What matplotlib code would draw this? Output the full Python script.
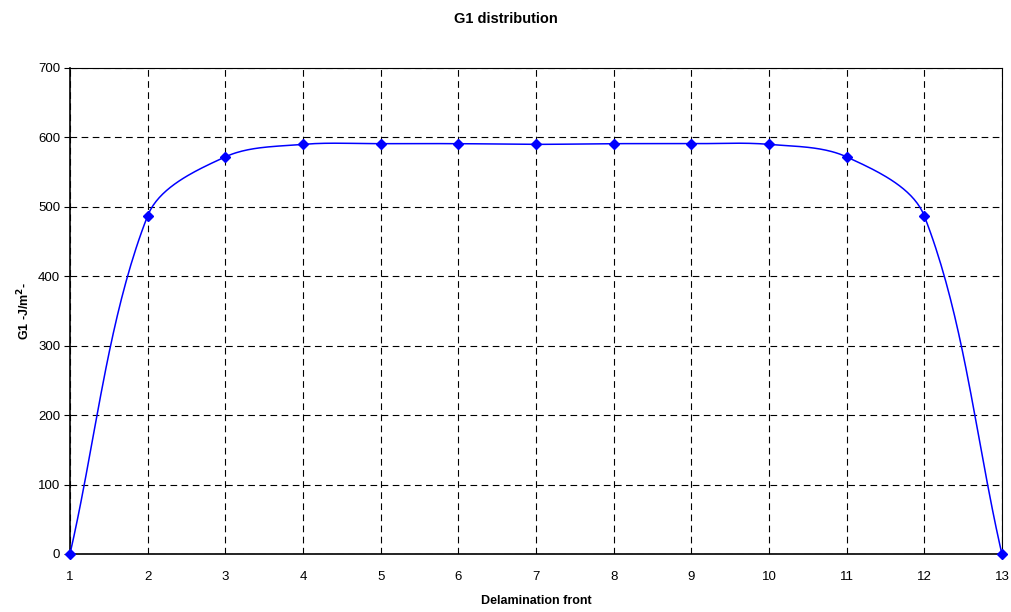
import numpy as np
import matplotlib
matplotlib.use("Agg")
import matplotlib.pyplot as plt

plt.rcParams["font.family"] = ["Liberation Sans", "DejaVu Sans"]

# data
front = [1, 2, 3, 4, 5, 6, 7, 8, 9, 10, 11, 12, 13]
g1 = [0, 487, 572, 590, 591, 591, 590, 591, 591, 590, 572, 487, 0]


def excel_smooth(ax, x, y, n=40):
    # bezier smoothing done in pixel space, control arms weighted by chord length
    pts = ax.transData.transform(np.column_stack([x, y]).astype(float))
    pp = np.vstack([pts[0], pts, pts[-1]])
    t = np.linspace(0, 1, n)[:, None]
    out = []
    for i in range(len(pts) - 1):
        a, p0, p1, b = pp[i], pp[i + 1], pp[i + 2], pp[i + 3]
        d0 = np.hypot(*(p0 - a))
        d1 = np.hypot(*(p1 - p0))
        d2 = np.hypot(*(b - p1))
        f1 = d1 / (d0 + d1) if d0 + d1 > 0 else 0
        f2 = d1 / (d1 + d2) if d1 + d2 > 0 else 0
        c1 = p0 + (p1 - a) * f1 / 3
        c2 = p1 - (b - p0) * f2 / 3
        seg = ((1 - t) ** 3) * p0 + 3 * ((1 - t) ** 2) * t * c1 + 3 * (1 - t) * t ** 2 * c2 + t ** 3 * p1
        out.append(seg)
    out = np.vstack(out)
    data = ax.transData.inverted().transform(out)
    return data[:, 0], data[:, 1]


fig = plt.figure(figsize=(10.11, 6.12), dpi=100)
ax = fig.add_axes([0.0692, 0.0948, 0.9218, 0.7941])
ax.set_xlim(1, 13)
ax.set_ylim(0, 700)

sx, sy = excel_smooth(ax, front, g1)
ax.plot(sx, sy, color="#0000ff", lw=1.1, zorder=3)
ax.plot(front, g1, ls="none", marker="D", ms=5, color="#0000ff", zorder=4, clip_on=False)

ax.set_xticks(front)
ax.set_yticks(range(0, 701, 100))
ax.grid(True, color="black", ls=(0, (6, 4)), lw=0.8)
ax.set_axisbelow(True)

for s in ["left", "bottom", "right", "top"]:
    ax.spines[s].set_color("black")
ax.spines["left"].set_linewidth(1.2)
ax.spines["bottom"].set_linewidth(1.2)
ax.spines["right"].set_linewidth(0.8)
ax.spines["top"].set_linewidth(0.8)

ax.tick_params(axis="both", labelsize=9.5, color="black")
ax.tick_params(axis="y", length=4, direction="out", pad=3)
ax.tick_params(axis="x", length=0, pad=12)

ax.set_xlabel("Delamination front", fontsize=9, fontweight="bold", labelpad=9)
ax.set_ylabel("G1 -J/m$^{\\mathbf{2}}$-", fontsize=9, fontweight="bold", labelpad=4)
fig.suptitle("G1 distribution", fontsize=10.5, fontweight="bold", y=0.98)

fig.savefig("out.png", dpi=100)
